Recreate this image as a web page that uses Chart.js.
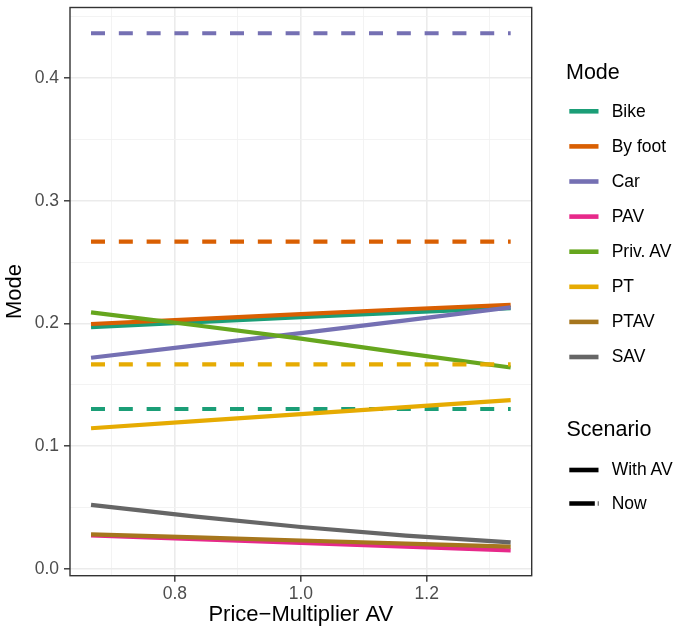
<!DOCTYPE html>
<html><head><meta charset="utf-8">
<script src="https://cdn.jsdelivr.net/npm/chart.js@4.4.1/dist/chart.umd.min.js"></script>
<style>
html,body{margin:0;padding:0;background:#fff;}
#wrap{position:relative;width:679px;height:634px;overflow:hidden;}
#c{position:absolute;left:0;top:0;}
.lg{position:absolute;font-family:"Liberation Sans",Arial,Helvetica,sans-serif;color:#000;line-height:1;white-space:nowrap;}
#keys{position:absolute;left:0;top:0;}
</style></head><body>
<div id="wrap"><canvas id="c" width="679" height="634"></canvas><svg id="keys" width="679" height="634"></svg></div>
<script>
// ---- data ----
const priceMultiplier = [0.6667, 0.8333, 1.0, 1.1667, 1.3333];
const modes = ["Bike", "By foot", "Car", "PAV", "Priv. AV", "PT", "PTAV", "SAV"];
const modeColors = ["#1B9E77", "#D95F02", "#7570B3", "#E7298A", "#66A61E", "#E6AB02", "#A6761D", "#666666"];

const withAvBike   = [0.1970, 0.2010, 0.2050, 0.2090, 0.2125];
const withAvByFoot = [0.1995, 0.2035, 0.2075, 0.2115, 0.2150];
const withAvCar    = [0.1720, 0.1820, 0.1920, 0.2025, 0.2130];
const withAvPAV    = [0.0272, 0.0240, 0.0210, 0.0180, 0.0150];
const withAvPrivAV = [0.2090, 0.1985, 0.1875, 0.1755, 0.1640];
const withAvPT     = [0.1145, 0.1203, 0.1260, 0.1318, 0.1375];
const withAvPTAV   = [0.0280, 0.0255, 0.0230, 0.0205, 0.0180];
const withAvSAV    = [0.0520, 0.0425, 0.0340, 0.0270, 0.0215];
const withAvSeries = [withAvBike, withAvByFoot, withAvCar, withAvPAV, withAvPrivAV, withAvPT, withAvPTAV, withAvSAV];

const nowModes  = ["Bike", "By foot", "Car", "PT"];
const nowShares = [0.1302, 0.2667, 0.4365, 0.1666];

const xMajorTicks = [0.8, 1.0, 1.2];
const xTickLabels = ["0.8", "1.0", "1.2"];
const xMinorTicks = [0.7, 0.9, 1.1, 1.3];
const yMajorTicks = [0.0, 0.1, 0.2, 0.3, 0.4];
const yTickLabels = ["0.0", "0.1", "0.2", "0.3", "0.4"];
const yMinorTicks = [0.05, 0.15, 0.25, 0.35, 0.45];

const scenarios = ["With AV", "Now"];

// ---- build datasets ----
const datasets = [];
modes.forEach((m, i) => {
  datasets.push({
    label: m + " (With AV)",
    data: priceMultiplier.map((x, j) => ({x: x, y: withAvSeries[i][j]})),
    borderColor: modeColors[i],
    borderWidth: 4.2,
    borderCapStyle: 'butt',
    fill: false
  });
  const k = nowModes.indexOf(m);
  if (k >= 0) {
    const xs = [priceMultiplier[0], priceMultiplier[priceMultiplier.length - 1]];
    datasets.push({
      label: m + " (Now)",
      data: xs.map(x => ({x: x, y: nowShares[k]})),
      borderColor: modeColors[i],
      borderWidth: 4.2,
      borderDash: [14, 13.8],
      borderCapStyle: 'butt',
      fill: false
    });
  }
});
datasets.forEach((d, i) => { d.order = -i; });

const FONT = '"Liberation Sans", Arial, Helvetica, sans-serif';
Chart.defaults.font.family = FONT;
const inList = (v, arr) => arr.some(a => Math.abs(a - v) < 1e-6);

const panelBorder = {
  id: 'panelBorder',
  afterDatasetsDraw(chart) {
    const {ctx, chartArea: a} = chart;
    ctx.save();
    ctx.strokeStyle = '#333333';
    ctx.lineWidth = 1.4;
    ctx.strokeRect(a.left, a.top, a.right - a.left, a.bottom - a.top);
    ctx.restore();
  }
};

function gridOpts(majors) {
  return {
    drawOnChartArea: true,
    drawTicks: true,
    tickLength: 6,
    tickWidth: 1.4,
    tickColor: c => (c.tick && inList(c.tick.value, majors)) ? '#333333' : 'rgba(0,0,0,0)',
    color: c => (c.tick && inList(c.tick.value, majors)) ? '#EBEBEB' : '#F2F2F2',
    lineWidth: c => (c.tick && inList(c.tick.value, majors)) ? 1.6 : 0.9
  };
}

new Chart(document.getElementById('c'), {
  type: 'line',
  data: { datasets },
  options: {
    responsive: false,
    animation: false,
    layout: { padding: { left: 0, right: 147.3, top: 7.5, bottom: 0 } },
    plugins: { legend: { display: false }, tooltip: { enabled: false } },
    elements: { point: { radius: 0, hoverRadius: 0 }, line: { tension: 0 } },
    scales: {
      x: {
        type: 'linear',
        min: 0.6333, max: 1.3667,
        afterBuildTicks: s => { s.ticks = xMajorTicks.concat(xMinorTicks).sort((a, b) => a - b).map(v => ({value: v})); },
        afterFit: s => { s.height = 58.3; },
        ticks: {
          autoSkip: false, maxRotation: 0, minRotation: 0, padding: 1.5,
          color: '#4D4D4D', font: { size: 17.5 },
          callback: v => { const i = xMajorTicks.findIndex(a => Math.abs(a - v) < 1e-6); return i >= 0 ? xTickLabels[i] : ''; }
        },
        grid: gridOpts(xMajorTicks),
        border: { display: false },
        title: { display: true, text: 'Price\u2212Multiplier AV', color: '#000000', font: { size: 22 }, padding: { top: 0, bottom: 5.8 } }
      },
      y: {
        type: 'linear',
        min: -0.0057, max: 0.4575,
        afterBuildTicks: s => { s.ticks = yMajorTicks.concat(yMinorTicks).sort((a, b) => a - b).map(v => ({value: v})); },
        afterFit: s => { s.width = 70; },
        ticks: {
          autoSkip: false, padding: 5,
          color: '#4D4D4D', font: { size: 17.5, lineHeight: 0.1 },
          callback: v => { const i = yMajorTicks.findIndex(a => Math.abs(a - v) < 1e-6); return i >= 0 ? yTickLabels[i] : ''; }
        },
        grid: gridOpts(yMajorTicks),
        border: { display: false },
        title: { display: true, text: 'Mode', color: '#000000', font: { size: 22 }, padding: { top: 1.8, bottom: 0 } }
      }
    }
  },
  plugins: [panelBorder]
});

// ---- legend (HTML text + SVG keys) ----
const wrap = document.getElementById('wrap');
const svg = document.getElementById('keys');
function addText(txt, left, baseline, size) {
  const d = document.createElement('div');
  d.className = 'lg';
  d.textContent = txt;
  d.style.fontSize = size + 'px';
  d.style.left = left + 'px';
  d.style.top = (baseline - 0.8465 * size) + 'px';
  wrap.appendChild(d);
}
function addKey(y, color, dash) {
  const l = document.createElementNS('http://www.w3.org/2000/svg', 'line');
  l.setAttribute('x1', 569.3); l.setAttribute('x2', 598.5);
  l.setAttribute('y1', y); l.setAttribute('y2', y);
  l.setAttribute('stroke', color); l.setAttribute('stroke-width', 4.6);
  if (dash) l.setAttribute('stroke-dasharray', dash);
  svg.appendChild(l);
}
addText('Mode', 566, 80.5, 21.5);
modes.forEach((m, i) => {
  const y = 111.3 + i * 35.1;
  addKey(y, modeColors[i], null);
  addText(m, 611.7, y + 6.3, 17.5);
});
addText('Scenario', 566.5, 437.5, 21.5);
scenarios.forEach((s, i) => {
  const y = 470 + i * 33.5;
  addKey(y, '#000000', i === 0 ? null : '25.5 3 1.2 10');
  addText(s, 611.7, y + 6.3, 17.5);
});
</script>
</body></html>
